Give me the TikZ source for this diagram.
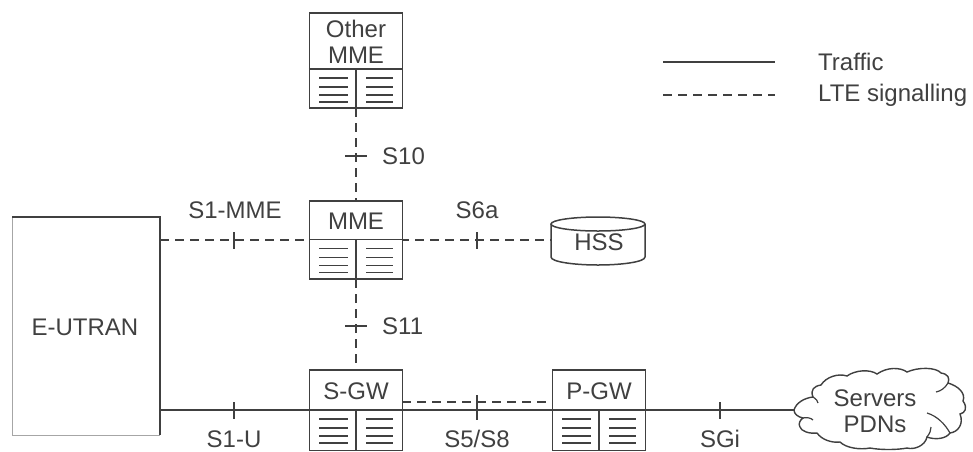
\documentclass[tikz,border=0pt]{standalone}
\usepackage{fontspec}
\setmainfont{Liberation Sans}
\usepackage{xcolor}
\usetikzlibrary{positioning}
\definecolor{linegray}{gray}{0.25}
\definecolor{textgray}{gray}{0.25}
\tikzset{
  netbox/.style={draw=linegray,line width=1.5pt,fill=white,inner sep=0pt},
  elabel/.style={text=textgray,font=\fontsize{24}{26}\selectfont,inner sep=0pt,align=center},
  ifmark/.style={fill=linegray,inner sep=0pt,minimum width=2pt,minimum height=17pt},
  ifmarkh/.style={fill=linegray,inner sep=0pt,minimum width=22pt,minimum height=1.8pt},
  traffic/.style={draw=linegray,line width=1.8pt},
  signal/.style={draw=linegray,line width=1.8pt,dash pattern=on 9pt off 6pt},
}
% box with a name on top and two text columns below
\newcommand{\elembox}[6]{%
  \node[netbox,minimum width=93pt,minimum height=#4pt-#3pt] (#1) at (#2,{(#3+#4)/2}) {};
  \coordinate (#1div) at (#2,#5);
  \draw[linegray,line width=1.5pt] (#1.west |- #1div) -- (#1.east |- #1div);
  \draw[linegray,line width=1.5pt] (#1div) -- (#1.south);
  \foreach \dy in {9,18,26,33} {
    \draw[linegray,line width=1.2pt] (#2-37,#5+\dy) -- (#2-8,#5+\dy);
    \draw[linegray,line width=1.2pt] (#2+10,#5+\dy) -- (#2+37,#5+\dy);
  }
  \node[elabel] (#1txt) at (#2,{(#3+#5)/2+1}) {#6};
}
\begin{document}
\begin{tikzpicture}[x=1pt,y=-1pt]
  \useasboundingbox (0,0) rectangle (973,451);
  \coordinate (legA) at (663,62);
  \coordinate (legB) at (775,62);
  \coordinate (legC) at (663,95);
  \coordinate (legD) at (775,95);
  \draw[traffic] (legA) -- (legB);
  \draw[signal] (legC) -- (legD);
  \node[elabel,anchor=west] (ltraffic) at (818,62) {Traffic};
  \node[elabel,anchor=west] (lsignal) at (818,95) {LTE signalling};

  % E-UTRAN has a heavy top and right side only
  \coordinate (euNW) at (12,217);
  \coordinate (euNE) at (160,217);
  \coordinate (euSE) at (160,435);
  \coordinate (euSW) at (12,435);
  \draw[black!35,line width=0.8pt] (euNW) -- (euSW) -- (euSE);
  \draw[linegray,line width=2pt] (euNW) -- (euNE) -- (euSE);
  \node[elabel] (eutran) at (85,327) {E-UTRAN};

  % connectors first, boxes are drawn over them
  \coordinate (mmeTop) at (356,201);
  \coordinate (otherBot) at (356,108);
  \coordinate (mmeBot) at (356,279);
  \coordinate (sgwTop) at (356,370);
  \coordinate (eLeftA) at (160,240);
  \coordinate (eLeftB) at (160,410);
  \coordinate (hssW) at (551,240);
  \coordinate (cloudW) at (795,410);
  \draw[signal] (otherBot) -- (mmeTop);
  \draw[signal] (mmeBot) -- (sgwTop);
  \draw[signal] (eLeftA) -- (hssW);
  \draw[traffic] (eLeftB) -- (cloudW);
  \coordinate (sgwE) at (402,402);
  \coordinate (pgwW) at (552,402);
  \draw[signal] (sgwE) -- (pgwW);

  \elembox{other}{356}{13}{108}{69}{Other\\MME}
  \elembox{mme}{356}{201}{279}{239.5}{MME}
  \elembox{sgw}{356}{370}{450.5}{410}{S-GW}
  \elembox{pgw}{599}{370}{450.5}{410}{P-GW}

  \draw[linegray,line width=1.5pt,fill=white] (551,224) -- (551,257)
    .. controls (551,262) and (575,265) .. (598,265)
    .. controls (621,265) and (645,262) .. (645,257) -- (645,224);
  \draw[linegray,line width=1.5pt,fill=white] (598,224) ellipse (47 and 7);
  \node[elabel] (hss) at (599,242) {HSS};

  \draw[linegray,line width=1.4pt,fill=white]
    (794,410) .. controls (796,403) and (804,398) .. (813,397)
    .. controls (810,390) and (814,386) .. (821,385)
    .. controls (826,377) and (838,373) .. (847,376)
    .. controls (855,370) and (870,369) .. (877,374)
    .. controls (887,367) and (900,367) .. (907,372)
    .. controls (918,367) and (936,367) .. (941,373)
    .. controls (948,374) and (950,378) .. (948,383)
    .. controls (958,386) and (966,393) .. (963,401)
    .. controls (968,408) and (965,413) .. (960,414)
    .. controls (964,424) and (958,432) .. (950,433)
    .. controls (946,439) and (935,440) .. (927,437)
    .. controls (925,446) and (914,450) .. (907,448)
    .. controls (897,450) and (880,450) .. (870,448)
    .. controls (860,450) and (846,448) .. (840,442)
    .. controls (832,443) and (822,440) .. (817,433)
    .. controls (809,434) and (801,431) .. (800,427)
    .. controls (798,424) and (800,420) .. (803,418)
    .. controls (798,417) and (794,414) .. (794,410) -- cycle;
  \draw[linegray,line width=1.2pt] (803,418) .. controls (807,417) and (811,418) .. (813,420);
  \draw[linegray,line width=1.2pt] (813,397) .. controls (816,399) and (818,401) .. (818,403);
  \draw[linegray,line width=1.2pt] (927,437) .. controls (930,433) and (931,430) .. (931,427);
  \draw[linegray,line width=1.2pt] (950,433) .. controls (945,424) and (937,416) .. (927,413);
  \draw[linegray,line width=1.2pt] (948,383) .. controls (945,388) and (941,391) .. (936,392);
  \node[elabel] (cloudtxt) at (875,411) {Servers\\PDNs};

  % interface marks
  \node[ifmarkh] (tS10) at (356,156) {};
  \node[ifmarkh] (tS11) at (356,326) {};
  \node[ifmark] (tS1m) at (234,240) {};
  \node[ifmark] (tS6a) at (477,240) {};
  \node[ifmark] (tS1u) at (234,410) {};
  \node[ifmark,minimum height=25pt] (tS5) at (477,407) {};
  \node[ifmark] (tSGi) at (720,410) {};

  \node[elabel,anchor=west] (lS10) at (382,156) {S10};
  \node[elabel,anchor=west] (lS11) at (382,326) {S11};
  \node[elabel] (lS1m) at (235,210) {S1-MME};
  \node[elabel] (lS6a) at (477,210) {S6a};
  \node[elabel,anchor=base] (lS1u) at (234,447) {S1-U};
  \node[elabel,anchor=base] (lS5) at (477,447) {S5/S8};
  \node[elabel,anchor=base] (lSGi) at (720,447) {SGi};
\end{tikzpicture}
\end{document}
